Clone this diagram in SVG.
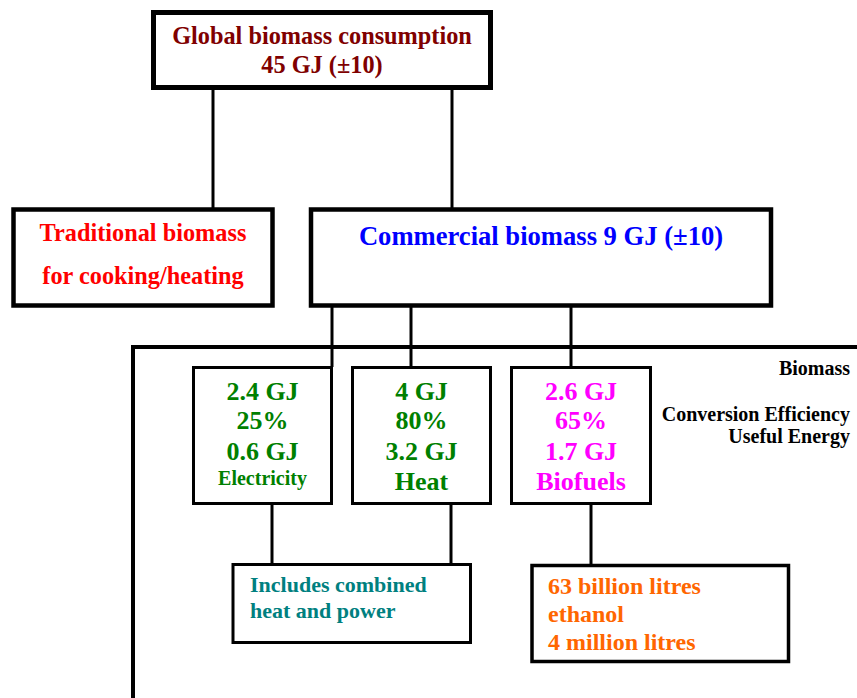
<svg xmlns="http://www.w3.org/2000/svg" width="857" height="698" viewBox="0 0 857 698">
<style>
text{font-family:'Liberation Serif','DejaVu Serif',serif;font-weight:700;}
.box{fill:#fff;stroke:#000;}
.ln{stroke:#000;stroke-width:3;fill:none;}
.c{text-anchor:middle;}
.g{fill:#008000;font-size:26px;}
.m{fill:#FF00FF;font-size:26px;}
.lbl{font-size:20px;fill:#000;text-anchor:end;}
</style>
<rect width="857" height="698" fill="#fff"/>
<g id="connectors">
<line class="ln" x1="213" y1="88" x2="213" y2="209"/>
<line class="ln" x1="452" y1="88" x2="452" y2="209"/>
<line class="ln" x1="332" y1="305" x2="332" y2="367"/>
<line class="ln" x1="411" y1="305" x2="411" y2="367"/>
<line class="ln" x1="571" y1="305" x2="571" y2="367"/>
<line class="ln" x1="272" y1="504" x2="272" y2="564"/>
<line class="ln" x1="451" y1="504" x2="451" y2="564"/>
<line class="ln" x1="591" y1="504" x2="591" y2="565"/>
<polyline fill="none" stroke="#000" stroke-width="4" points="133,698 133,347 857,347"/>
</g>
<g id="global">
<rect class="box" x="153.5" y="12.5" width="337" height="75" stroke-width="5"/>
<text class="c" x="322" y="44" font-size="24.3" fill="#800000">Global biomass consumption</text>
<text class="c" x="322" y="73" font-size="24.3" fill="#800000">45 GJ (±10)</text>
</g>
<g id="traditional">
<rect class="box" x="13.5" y="209.5" width="259" height="96" stroke-width="4.5"/>
<text class="c" x="143" y="241" font-size="24.3" fill="#FF0000">Traditional biomass</text>
<text class="c" x="143" y="284" font-size="24.3" fill="#FF0000">for cooking/heating</text>
</g>
<g id="commercial">
<rect class="box" x="311" y="209.5" width="460" height="96" stroke-width="4.5"/>
<text class="c" x="541" y="245" font-size="26.6" fill="#0000FF">Commercial biomass 9 GJ (±10)</text>
</g>
<g id="electricity">
<rect class="box" x="193.5" y="367.5" width="138" height="136" stroke-width="3"/>
<text class="c g" x="262.5" y="400">2.4 GJ</text>
<text class="c g" x="262.5" y="429">25%</text>
<text class="c g" x="262.5" y="460">0.6 GJ</text>
<text class="c" x="262.5" y="485" font-size="20" fill="#008000">Electricity</text>
</g>
<g id="heat">
<rect class="box" x="352.5" y="367.5" width="138" height="136" stroke-width="3"/>
<text class="c g" x="421.5" y="400">4 GJ</text>
<text class="c g" x="421.5" y="429">80%</text>
<text class="c g" x="421.5" y="460">3.2 GJ</text>
<text class="c g" x="421.5" y="490" font-size="27">Heat</text>
</g>
<g id="biofuels">
<rect class="box" x="511.5" y="367.5" width="139" height="136" stroke-width="3"/>
<text class="c m" x="581" y="400">2.6 GJ</text>
<text class="c m" x="581" y="429">65%</text>
<text class="c m" x="581" y="460">1.7 GJ</text>
<text class="c m" x="581" y="490" font-size="27">Biofuels</text>
</g>
<g id="legend">
<text class="lbl" x="850" y="375">Biomass</text>
<text class="lbl" x="850" y="421">Conversion Efficiency</text>
<text class="lbl" x="850" y="443">Useful Energy</text>
</g>
<g id="chp">
<rect class="box" x="233" y="564.5" width="237.5" height="78" stroke-width="3"/>
<text x="250" y="592" font-size="22" fill="#008080">Includes combined</text>
<text x="250" y="618" font-size="22" fill="#008080">heat and power</text>
</g>
<g id="ethanol">
<rect class="box" x="532" y="565.5" width="256.5" height="96" stroke-width="3.5"/>
<text x="548" y="594" font-size="24" fill="#FF6600">63 billion litres</text>
<text x="548" y="622" font-size="24" fill="#FF6600">ethanol</text>
<text x="548" y="650" font-size="24" fill="#FF6600">4 million litres</text>
</g>
</svg>
